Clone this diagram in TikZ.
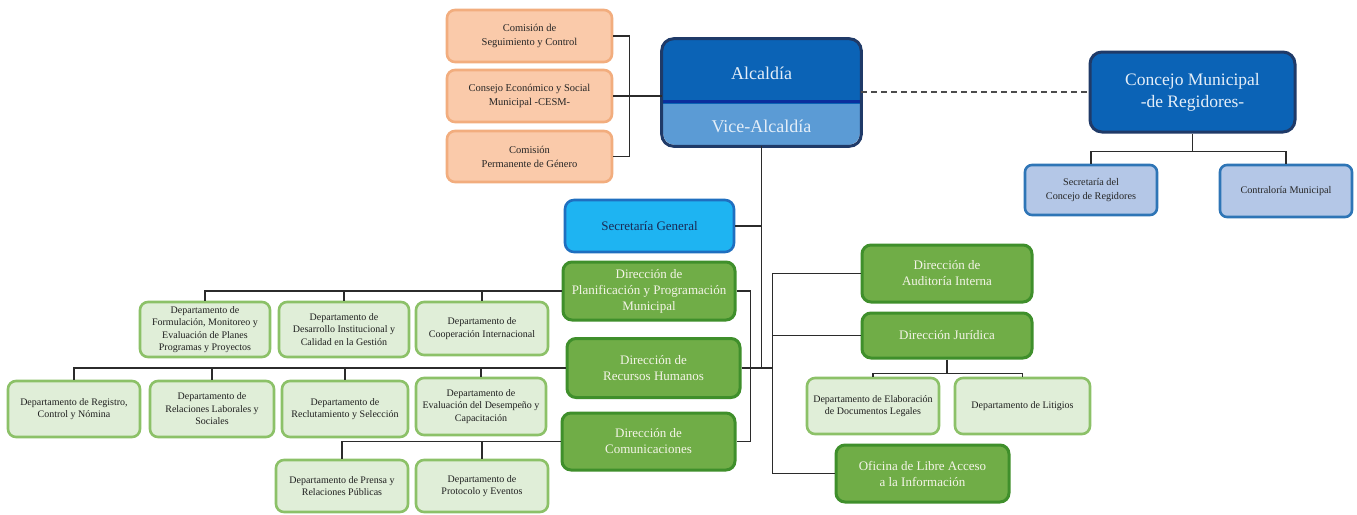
\documentclass[tikz,border=0pt]{standalone}
\usepackage{fontspec}
\setmainfont{Liberation Serif}
\usetikzlibrary{calc}

\definecolor{orfill}{HTML}{FACAAA}
\definecolor{ordraw}{HTML}{F2AD7E}
\definecolor{navy}{HTML}{1F3A68}
\definecolor{alcfill}{HTML}{0B63B6}
\definecolor{vicefill}{HTML}{5B9BD5}
\definecolor{divblue}{HTML}{0A2F9E}
\definecolor{alctext}{HTML}{E4EEF8}
\definecolor{palefill}{HTML}{B4C7E7}
\definecolor{paledraw}{HTML}{2E75B6}
\definecolor{sgfill}{HTML}{1EB4F2}
\definecolor{sgdraw}{HTML}{1F6FC0}
\definecolor{sgtext}{HTML}{1A2A55}
\definecolor{grfill}{HTML}{70AD47}
\definecolor{grdraw}{HTML}{3F8F2B}
\definecolor{grtext}{HTML}{F4F4E8}
\definecolor{lgfill}{HTML}{E0EED8}
\definecolor{lgdraw}{HTML}{8CC168}
\definecolor{wire}{HTML}{2B2B2B}

\begin{document}
\begin{tikzpicture}[x=1pt,y=-1pt,
  box/.style={rectangle, align=center, inner sep=0pt, line width=2.6pt},
  orbox/.style={box, draw=ordraw, fill=orfill, rounded corners=8pt,
    font=\fontsize{10.5}{14}\selectfont, text=black!85},
  bigblue/.style={box, draw=navy, fill=alcfill, line width=3pt, rounded corners=12pt,
    font=\fontsize{17.5}{22}\selectfont, text=alctext},
  palebox/.style={box, draw=paledraw, fill=palefill, rounded corners=7pt,
    font=\fontsize{10.2}{13.5}\selectfont, text=black!85},
  sgbox/.style={box, draw=sgdraw, fill=sgfill, rounded corners=9pt,
    font=\fontsize{13}{16}\selectfont, text=sgtext},
  dirbox/.style={box, draw=grdraw, fill=grfill, line width=3pt, rounded corners=9pt,
    font=\fontsize{13}{16}\selectfont, text=grtext},
  depbox/.style={box, draw=lgdraw, fill=lgfill, rounded corners=8pt,
    font=\fontsize{10}{12.5}\selectfont, text=black!88},
  wirel/.style={draw=wire, line width=1.5pt},
  dashl/.style={draw=wire!85, line width=1.6pt, dash pattern=on 6pt off 4pt}
]
\fill[white] (0,0) rectangle (1357,514);
\useasboundingbox (0,0) rectangle (1357,514);

% --- Alcaldía / Vice-Alcaldía block
\node[box, fill=vicefill, minimum width=197pt, minimum height=105pt, rounded corners=12pt] (alcbox) at (761.5,92.5) {};
\begin{scope}
  \clip (600,0) rectangle (900,103);
  \fill[alcfill, rounded corners=12pt] (alcbox.north west) rectangle (alcbox.south east);
\end{scope}
\draw[divblue, line width=2.5pt] ($(alcbox.north west)+(1.5,63)$) -- ($(alcbox.north east)+(-1.5,63)$);
\draw[navy, line width=3pt, rounded corners=12pt] (alcbox.north west) rectangle (alcbox.south east);
\node[font=\fontsize{18}{22}\selectfont, text=alctext] (alc) at (761.5,73) {Alcaldía};
\node[font=\fontsize{18}{22}\selectfont, text=alctext] (vice) at (761.5,126) {Vice-Alcaldía};

% --- advisory commissions
\node[orbox, minimum width=165pt, minimum height=52pt] (com1) at (529.5,36) {Comisión de\\Seguimiento y Control};
\node[orbox, minimum width=165pt, minimum height=52pt] (com2) at (529.5,96) {Consejo Económico y Social\\Municipal -CESM-};
\node[orbox, minimum width=165pt, minimum height=51pt] (com3) at (529.5,156.5) {Comisión\\Permanente de Género};

% --- municipal council
\node[bigblue, minimum width=205pt, minimum height=80pt] (conc) at (1192.5,92) {Concejo Municipal\\-de Regidores-};
\node[palebox, minimum width=132pt, minimum height=50pt] (secc) at (1091,190) {Secretaría del\\Concejo de Regidores};
\node[palebox, minimum width=132pt, minimum height=52pt] (contr) at (1286,191) {Contraloría Municipal};

% --- directorates
\node[sgbox, minimum width=169pt, minimum height=52pt] (secgen) at (649.5,226) {Secretaría General};
\node[dirbox, minimum width=172pt, minimum height=58pt] (dplan) at (649,291) {Dirección de\\Planificación y Programación\\Municipal};
\node[dirbox, minimum width=173pt, minimum height=59pt] (drrhh) at (653.5,368) {Dirección de\\Recursos Humanos};
\node[dirbox, minimum width=173pt, minimum height=57pt] (dcom) at (648.5,441.5) {Dirección de\\Comunicaciones};
\node[dirbox, minimum width=170pt, minimum height=57pt] (daud) at (947,273.5) {Dirección de\\Auditoría Interna};
\node[dirbox, minimum width=170pt, minimum height=45pt] (djur) at (947,335.5) {Dirección Jurídica};
\node[dirbox, minimum width=173pt, minimum height=57pt] (dofi) at (922.5,473.5) {Oficina de Libre Acceso\\a la Información};

% --- departments of planning
\node[depbox, minimum width=130pt, minimum height=55pt] (dform) at (205,329.5) {Departamento de\\Formulación, Monitoreo y\\Evaluación de Planes\\Programas y Proyectos};
\node[depbox, minimum width=130pt, minimum height=55pt] (ddes) at (344,329.5) {Departamento de\\Desarrollo Institucional y\\Calidad en la Gestión};
\node[depbox, minimum width=132pt, minimum height=53pt] (dcoop) at (482,328.5) {Departamento de\\Cooperación Internacional};

% --- departments of human resources
\node[depbox, minimum width=132pt, minimum height=56pt] (dreg) at (74,409) {Departamento de Registro,\\Control y Nómina};
\node[depbox, minimum width=124pt, minimum height=56pt] (drel) at (212,409) {Departamento de\\Relaciones Laborales y\\Sociales};
\node[depbox, minimum width=126pt, minimum height=56pt] (drec) at (345,409) {Departamento de\\Reclutamiento y Selección};
\node[depbox, minimum width=130pt, minimum height=57pt] (deval) at (481,406.5) {Departamento de\\Evaluación del Desempeño y\\Capacitación};

% --- departments of communications
\node[depbox, minimum width=132pt, minimum height=52pt] (dpren) at (342,486) {Departamento de Prensa y\\Relaciones Públicas};
\node[depbox, minimum width=132pt, minimum height=52pt] (dprot) at (482,486) {Departamento de\\Protocolo y Eventos};

% --- legal departments
\node[depbox, minimum width=132pt, minimum height=56pt] (delab) at (873,406) {Departamento de Elaboración\\de Documentos Legales};
\node[depbox, minimum width=135pt, minimum height=56pt] (dlit) at (1022.5,406) {Departamento de Litigios};

% ===== connectors
% commissions bracket
\draw[wirel] (com1.east) -| ($(com1.east)+(16,0)$) |- (com3.east);
\draw[wirel] (com2.east) -- (alcbox.west |- com2.east);
% link to council
\draw[dashl] (alcbox.east |- conc.west) -- (conc.west);
% council children
\coordinate (cbar) at ($(conc.south)+(0,18)$);
\draw[wirel] (conc.south) -- (cbar);
\draw[wirel] (secc.north) |- (cbar) -| (contr.north);
% main spine
\draw[wirel] (alcbox.south) -- (alcbox.south |- drrhh.east);
\draw[wirel] (secgen.east) -- (alcbox.south |- secgen.east);
\draw[wirel] (dplan.east) -- ++(14,0) |- (dcom.east);
\coordinate (rb) at ($(alcbox.south |- drrhh.east)+(11,0)$);
\draw[wirel] (drrhh.east) -- (rb);
\draw[wirel] (daud.west) -| (rb) |- (dofi.west);
\draw[wirel] (djur.west) -- (djur.west -| rb);
% legal departments
\coordinate (jbar) at ($(djur.south)+(0,14)$);
\draw[wirel] (djur.south) -- (jbar);
\draw[wirel] (delab.north) |- (jbar) -| (dlit.north);
% planning departments
\draw[wirel] (dplan.west) -| (dform.north);
\draw[wirel] (ddes.north) -- (ddes.north |- dplan.west);
\draw[wirel] (dcoop.north) -- (dcoop.north |- dplan.west);
% human resources departments
\draw[wirel] (drrhh.west) -| (dreg.north);
\draw[wirel] (drel.north) -- (drel.north |- drrhh.west);
\draw[wirel] (drec.north) -- (drec.north |- drrhh.west);
\draw[wirel] (deval.north) -- (deval.north |- drrhh.west);
% communications departments
\draw[wirel] (dcom.west) -| (dpren.north);
\draw[wirel] (dprot.north) -- (dprot.north |- dcom.west);
\end{tikzpicture}
\end{document}
